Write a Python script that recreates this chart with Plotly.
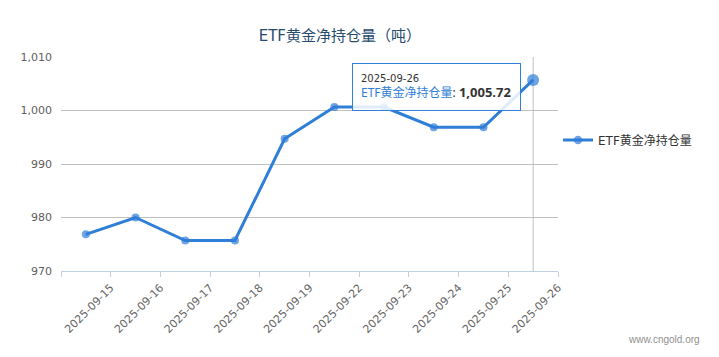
import plotly.graph_objects as go

# ---- data ----
dates = ["2025-09-15", "2025-09-16", "2025-09-17", "2025-09-18", "2025-09-19",
         "2025-09-22", "2025-09-23", "2025-09-24", "2025-09-25", "2025-09-26"]
holdings = [976.85, 980.0, 975.7, 975.7, 994.7, 1000.65, 1000.65, 996.87, 996.87, 1005.72]
series_name = "ETF黄金净持仓量"
chart_title = "ETF黄金净持仓量（吨）"
y_ticks = [970, 980, 990, 1000, 1010]
watermark = "www.cngold.org"

# ---- styles ----
BLUE = "#2f7ed8"
FONT = "DejaVu Sans, Noto Sans CJK SC, sans-serif"
TIP_FONT = "Noto Sans, Noto Sans CJK SC, sans-serif"
n = len(dates)
idx = list(range(n))
sizes = [8] * (n - 1) + [12]

fig = go.Figure()
fig.add_trace(go.Scatter(
    x=idx, y=holdings, name=series_name, mode="lines+markers",
    line=dict(color=BLUE, width=3),
    marker=dict(color=BLUE, size=sizes, line=dict(width=0)),
    hoverinfo="skip",
))

# crosshair on hovered (last) point
fig.add_shape(type="line", xref="x", yref="paper", x0=idx[-1], x1=idx[-1], y0=0, y1=1,
              line=dict(color="#C0C0C0", width=1), layer="below")

# tooltip
tip = (f"<span style='font-size:10px;color:#333333;font-family:DejaVu Sans'>{dates[-1]}</span><br>"
       f"<span style='color:{BLUE}'>{series_name}</span>: "
       f"<span style='font-size:13px'><b>{holdings[-1]:,.2f}</b></span>")
fig.add_annotation(
    text=tip, xref="paper", yref="paper", x=0.585, y=0.973,
    xanchor="left", yanchor="top", align="left", valign="middle", showarrow=False,
    width=151, height=30,
    bgcolor="rgba(255,255,255,0.85)", bordercolor=BLUE, borderwidth=1, borderpad=8,
    font=dict(family=TIP_FONT, size=12, color="#333333"),
)

# watermark
fig.add_annotation(
    text=watermark, xref="paper", yref="paper", x=1.29, y=-0.318,
    xanchor="right", yanchor="middle", showarrow=False,
    font=dict(family="Liberation Sans Narrow, Liberation Sans, sans-serif", size=10, color="#909090"),
)

tickvals = [i - 0.5 for i in range(n + 1)]
ticktext = [""] + dates

fig.update_layout(
    width=719, height=357,
    margin=dict(l=53, r=169, t=49, b=94, autoexpand=False),
    paper_bgcolor="white", plot_bgcolor="white",
    title=dict(text=chart_title, x=0.561, xref="paper", xanchor="center",
               y=1 - 28 / 357, yref="container", yanchor="middle",
               font=dict(family=FONT, size=15, color="#274b6d")),
    showlegend=True,
    legend=dict(x=1.0, xanchor="left", y=0.612, yanchor="middle",
                font=dict(family=FONT, size=12, color="#333333"),
                bgcolor="rgba(0,0,0,0)", itemwidth=30),
    xaxis=dict(range=[-0.5, n - 0.5], tickmode="array", tickvals=tickvals, ticktext=ticktext,
               tickangle=-45, showgrid=False, zeroline=False, automargin=False,
               showline=True, linecolor="#C0D0E0", linewidth=1,
               ticks="outside", ticklen=5, tickcolor="#C0D0E0",
               tickfont=dict(family=FONT, size=11, color="#666666")),
    yaxis=dict(range=[y_ticks[0], y_ticks[-1]], tickmode="array", tickvals=y_ticks,
               tickformat=",", showgrid=True, gridcolor="#C0C0C0", gridwidth=1,
               zeroline=False, showline=False, ticks="", ticklabelstandoff=8, automargin=False,
               tickfont=dict(family=FONT, size=11, color="#606060")),
)

fig.write_html("out.html")
